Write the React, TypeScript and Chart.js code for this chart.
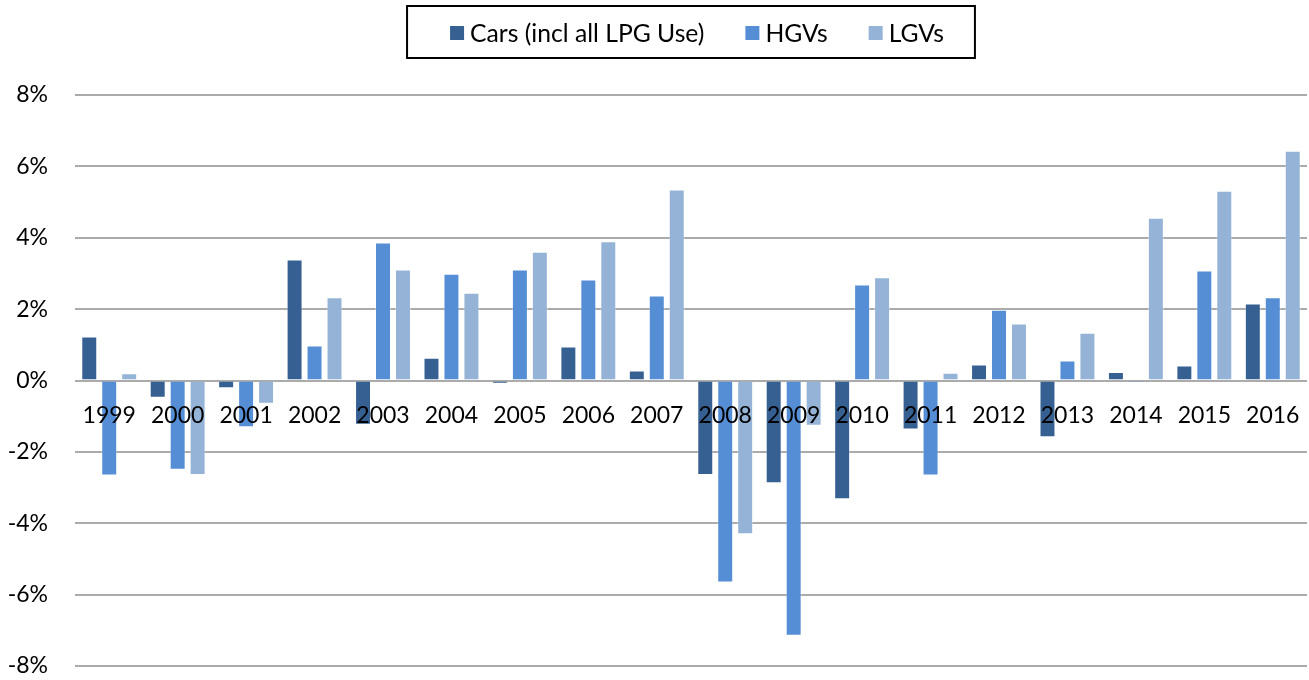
import React, { useEffect, useRef } from "react";
import { Chart, registerables } from "chart.js";

Chart.register(...registerables);

const years = ["1999", "2000", "2001", "2002", "2003", "2004", "2005", "2006", "2007", "2008", "2009", "2010", "2011", "2012", "2013", "2014", "2015", "2016"];
const carsValues = [1.23, -0.48, -0.22, 3.39, -1.24, 0.64, -0.09, 0.95, 0.28, -2.65, -2.88, -3.33, -1.37, 0.45, -1.59, 0.24, 0.42, 2.16];
const hgvValues = [-2.66, -2.5, -1.31, 0.98, 3.87, 2.99, 3.11, 2.83, 2.38, -5.66, -7.15, 2.69, -2.66, 1.98, 0.56, -0.05, 3.08, 2.33];
const lgvValues = [0.2, -2.65, -0.65, 2.33, 3.11, 2.46, 3.61, 3.9, 5.35, -4.31, -1.27, 2.89, 0.22, 1.6, 1.34, 4.56, 5.32, 6.44];
const seriesNames = ["Cars (incl all LPG Use)", "HGVs", "LGVs"];
const seriesColors = ["#376092", "#558ED5", "#95B3D7"];
const yTicks = [-8, -6, -4, -2, 0, 2, 4, 6, 8];

const FONT = "Lato";
const FONT_SIZE = 23;
const LEGEND_FONT_SIZE = 24.7;

const legendBoxPlugin = {
  id: "legendBox",
  afterDraw(chart: any) {
    const ctx = chart.ctx;
    const area = chart.chartArea;
    ctx.save();
    ctx.font = `${LEGEND_FONT_SIZE}px ${FONT}`;
    const box = 14;
    const gap = 6;
    const itemGap = 41;
    const items = chart.data.datasets.map((ds: any) => ({
      text: ds.label,
      color: ds.backgroundColor,
      w: ctx.measureText(ds.label).width,
    }));
    let total = 0;
    items.forEach((it: any, i: number) => {
      total += box + gap + it.w + (i > 0 ? itemGap : 0);
    });
    const cx = (area.left + area.right) / 2;
    const frameW = total + 74;
    const frameLeft = cx - frameW / 2;
    const frameTop = 6;
    const frameBottom = 58;
    ctx.lineWidth = 2;
    ctx.strokeStyle = "#000000";
    ctx.strokeRect(frameLeft, frameTop, frameW, frameBottom - frameTop);
    const cy = 33;
    let x = frameLeft + 43;
    ctx.textBaseline = "middle";
    ctx.textAlign = "left";
    items.forEach((it: any) => {
      ctx.fillStyle = it.color;
      ctx.fillRect(x, cy - box / 2, box, box);
      x += box + gap;
      ctx.fillStyle = "#000000";
      ctx.fillText(it.text, x, cy + 1);
      x += it.w + itemGap;
    });
    ctx.restore();
  },
};

export default function App() {
  const canvasRef = useRef<HTMLCanvasElement | null>(null);

  useEffect(() => {
    if (!canvasRef.current) return;
    const values = [carsValues, hgvValues, lgvValues];
    const chart = new Chart(canvasRef.current, {
      type: "bar",
      data: {
        labels: years,
        datasets: seriesNames.map((name, i) => ({
          label: name,
          data: values[i],
          backgroundColor: seriesColors[i],
          borderColor: "rgba(255,255,255,0.35)",
          borderWidth: 1,
          barPercentage: 0.8,
          categoryPercentage: 0.875,
        })),
      },
      options: {
        responsive: false,
        animation: false,
        layout: { padding: { top: 95, bottom: 14, left: 0, right: 2 } },
        plugins: {
          legend: { display: false },
          tooltip: { enabled: false },
          title: { display: false },
        },
        scales: {
          x: {
            position: { y: 0 } as any,
            afterFit: (scale: any) => {
              scale.height = 0;
              scale.paddingLeft = 0;
              scale.paddingRight = 0;
            },
            grid: { display: false, drawTicks: false },
            border: { display: false },
            ticks: {
              z: 1,
              color: "#000000",
              font: { family: FONT, size: FONT_SIZE },
              padding: 21,
              maxRotation: 0,
              autoSkip: false,
            },
          },
          y: {
            min: -8,
            max: 8,
            afterBuildTicks: (scale: any) => {
              scale.ticks = yTicks.map((v) => ({ value: v }));
            },
            afterFit: (scale: any) => {
              scale.width = 75;
              scale.paddingTop = 0;
              scale.paddingBottom = 0;
            },
            grid: { color: "#ababab", lineWidth: 2, drawTicks: false },
            border: { display: false },
            ticks: {
              color: "#000000",
              font: { family: FONT, size: FONT_SIZE },
              padding: 27,
              callback: (v: any) => `${v}%`,
            },
          },
        },
      } as any,
      plugins: [legendBoxPlugin],
    });
    return () => chart.destroy();
  }, []);

  return (
    <div style={{ position: "absolute", left: 0, top: 0, width: 1309, height: 680, background: "#ffffff" }}>
      <canvas ref={canvasRef} width={1309} height={680} style={{ display: "block" }} />
    </div>
  );
}
